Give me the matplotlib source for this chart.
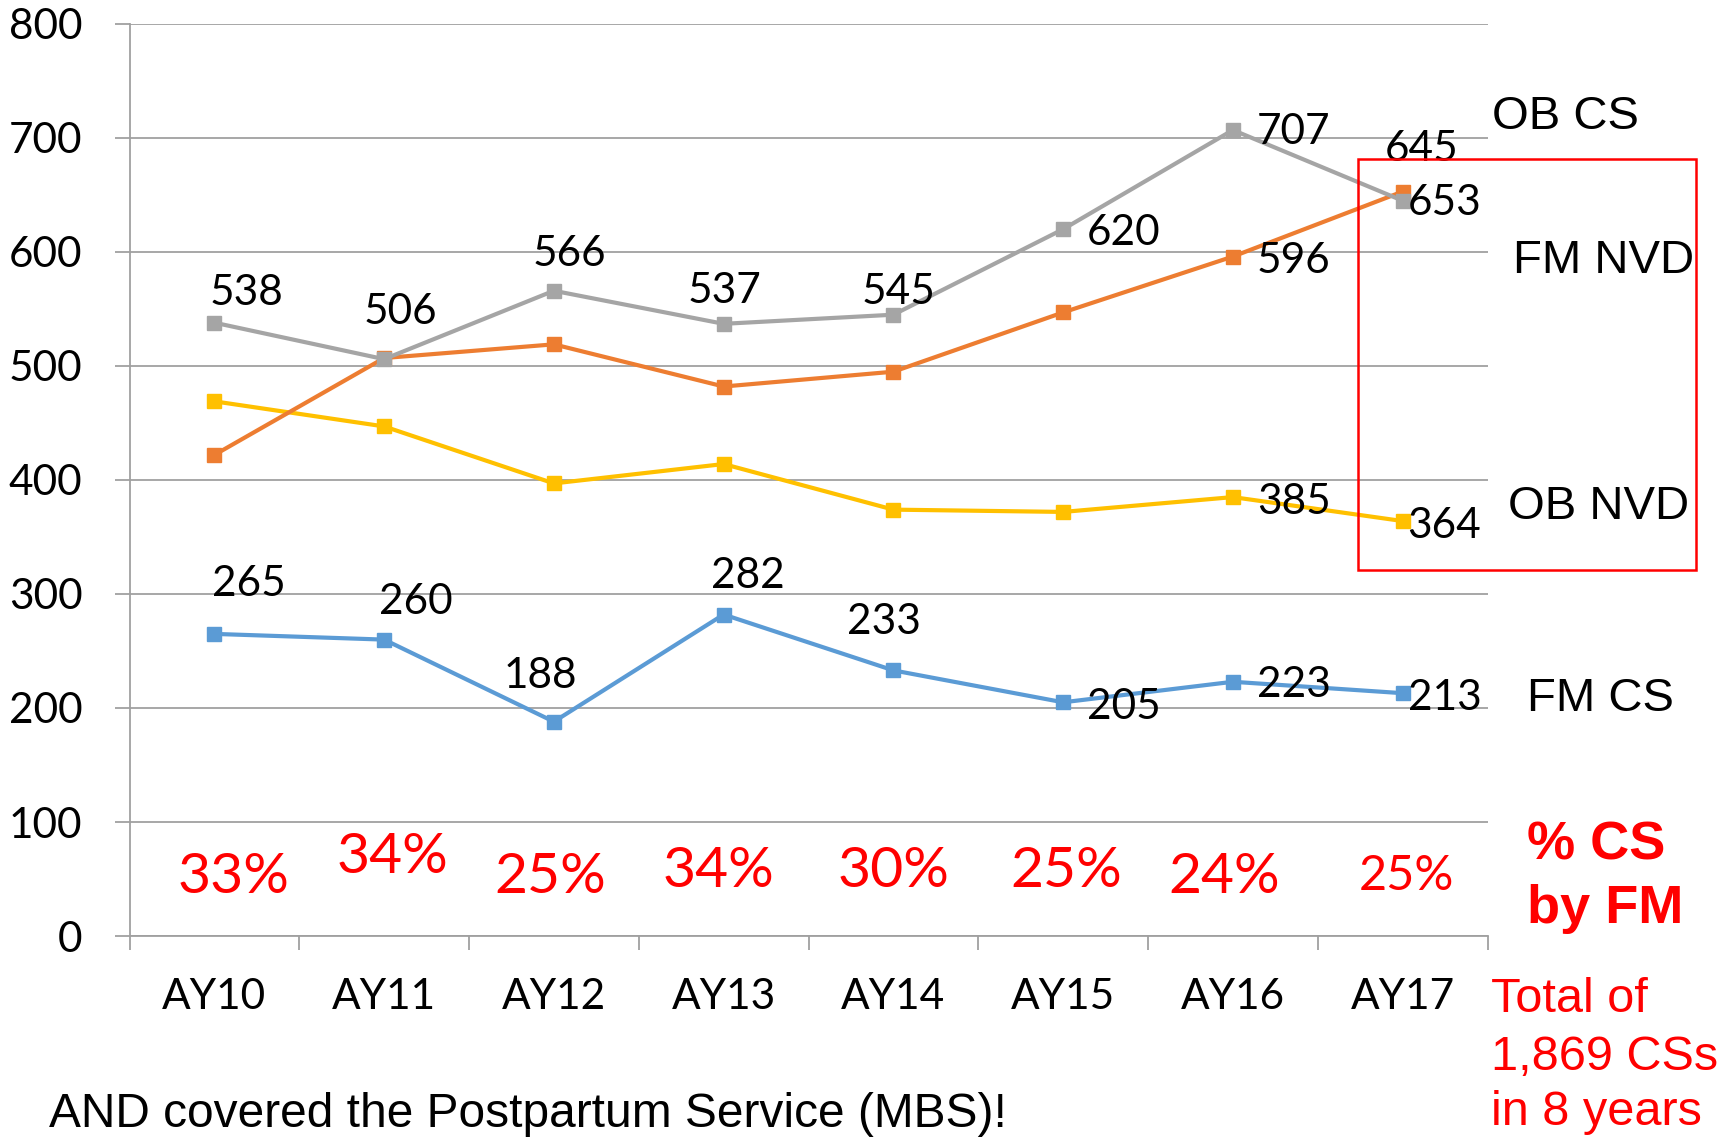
import numpy as np
import matplotlib.pyplot as plt
import matplotlib.patches as patches

# data
years = ["AY10", "AY11", "AY12", "AY13", "AY14", "AY15", "AY16", "AY17"]
ob_cs = [538, 506, 566, 537, 545, 620, 707, 645]
fm_nvd = [422, 507, 519, 482, 495, 547, 596, 653]
ob_nvd = [469, 447, 397, 414, 374, 372, 385, 364]
fm_cs = [265, 260, 188, 282, 233, 205, 223, 213]
pct_fm = ["33%", "34%", "25%", "34%", "30%", "25%", "24%", "25%"]

# label placement (ha, dx px, dy px to baseline), None = no label
R1 = ("left", 24, -16)
R2 = ("left", 5, -17)
lab_ob_cs = [("center", 32, 18), ("center", 16, 35), ("center", 16, 25), ("center", 1, 21),
             ("center", 5, 11), R1, ("left", 24, -14), ("center", 19, 40)]
lab_fm_nvd = [None] * 6 + [R1, ("left", 5, -23)]
lab_ob_nvd = [None] * 6 + [("left", 24, -17), R2]
lab_fm_cs = [("center", 34, 38), ("center", 32, 26), ("center", -14, 34), ("center", 24, 27),
             ("center", -9, 36), ("left", 24, -17), ("left", 24, -15), R2]

pct_dx = [0.11, 0.05, -0.02, -0.03, 0.0, 0.02, -0.05, 0.02]
pct_base = [37.7, 55.3, 37.7, 43, 43, 43, 37.7, 40.4]
pct_size = [41, 41, 41, 41, 41, 41, 41, 35]

CAL = "Lato"
ARI = "Liberation Sans"
GRID = "#a0a0a0"
NUM = 30.5

W, H = 1720, 1138
fig = plt.figure(figsize=(W / 100, H / 100), dpi=100)
ax = fig.add_axes([129.5 / W, 1 - 936 / H, (1487.5 - 129.5) / W, (936 - 24) / H])

x = np.arange(len(years))
series = [
    (fm_cs, "#5b9bd5", lab_fm_cs),
    (ob_nvd, "#ffc000", lab_ob_nvd),
    (fm_nvd, "#ed7d31", lab_fm_nvd),
    (ob_cs, "#a5a5a5", lab_ob_cs),
]
for vals, col, labs in series:
    ax.plot(x, vals, color=col, lw=3.0, marker="s", ms=10.5, mfc=col, mec=col, clip_on=False, zorder=3)
for vals, col, labs in series:
    for i, v in enumerate(vals):
        if labs[i] is None:
            continue
        ha, dx, dy = labs[i]
        ax.annotate(str(v), (i, v), xytext=(dx, dy), textcoords="offset pixels",
                    ha=ha, va="baseline", fontsize=NUM, family=CAL, color="black", zorder=5)

for i, s in enumerate(pct_fm):
    ax.text(i + pct_dx[i], pct_base[i], s, ha="center", va="baseline", color="red",
            fontsize=pct_size[i], family=CAL)

ax.set_xlim(-0.5, 7.5)
ax.set_ylim(0, 800)
ax.set_yticks(range(0, 801, 100))
ax.yaxis.grid(True, color=GRID, lw=1.3)
ax.set_axisbelow(True)
for sp in ["top", "right"]:
    ax.spines[sp].set_visible(False)
for sp in ["left", "bottom"]:
    ax.spines[sp].set_color(GRID)
    ax.spines[sp].set_linewidth(1.3)

ax.set_xticks(x, years)
ax.set_xticks(np.arange(-0.5, 8, 1), minor=True)
ax.tick_params(axis="x", which="major", length=0, pad=30, labelsize=NUM)
ax.tick_params(axis="x", which="minor", length=10, width=1.3, color=GRID)
ax.tick_params(axis="y", length=11, width=1.3, color=GRID, pad=23, labelsize=NUM)
for t in ax.get_xticklabels() + ax.get_yticklabels():
    t.set_family(CAL)


def ftxt(px, py, s, **kw):
    fig.text(px / W, 1 - py / H, s, va="baseline", **kw)


ftxt(1492, 129, "OB CS", fontsize=34, family=ARI)
ftxt(1513, 273, "FM NVD", fontsize=34, family=ARI)
ftxt(1508, 519, "OB NVD", fontsize=34, family=ARI)
ftxt(1527, 711, "FM CS", fontsize=34, family=ARI)

ftxt(1527, 860, "% CS", fontsize=39, family=ARI, color="red", weight="bold")
ftxt(1527, 923, "by FM", fontsize=39, family=ARI, color="red", weight="bold")

ftxt(1491, 1012, "Total of", fontsize=35, family=ARI, color="red")
ftxt(1491, 1070, "1,869 CSs", fontsize=35, family=ARI, color="red")
ftxt(1491, 1125, "in 8 years", fontsize=35, family=ARI, color="red")

ftxt(49, 1127, "AND covered the Postpartum Service (MBS)!", fontsize=34.5, family=ARI)

box = patches.Rectangle((1358 / W, 1 - 570 / H), (1696 - 1358) / W, (570 - 159) / H,
                        transform=fig.transFigure, fill=False, ec="red", lw=1.8)
fig.patches.append(box)

fig.savefig("out.png", dpi=100)
